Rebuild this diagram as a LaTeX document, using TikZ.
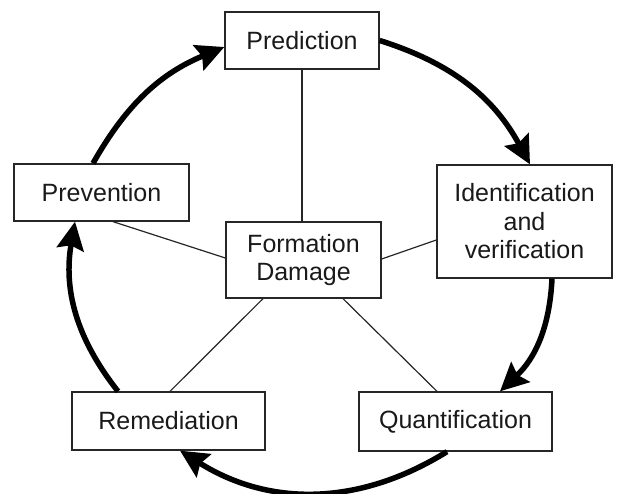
\documentclass[tikz,border=0pt]{standalone}
\usepackage{fontspec}
\setmainfont{Liberation Sans}
\usetikzlibrary{arrows.meta}
\begin{document}
\begin{tikzpicture}[x=1pt,y=1pt,
  box/.style={draw=black!85, line width=1.3pt, inner sep=0pt, align=center,
    text=black!90, font=\fontsize{25}{28.5}\selectfont},
  spoke/.style={draw=black!85, line width=1.2pt},
  cyc/.style={draw=black, line width=5.5pt,
    -{Stealth[length=28pt,width=27pt,inset=4pt]}}]
\useasboundingbox (0,0) rectangle (617,493);
\node[box, minimum width=154pt, minimum height=57pt] (pred) at (302,452.5) {Prediction};
\node[box, minimum width=175pt, minimum height=113pt] (ident) at (524.5,271.5) {Identification\\and\\verification};
\node[box, minimum width=175pt, minimum height=57pt] (prev) at (101.5,300.5) {Prevention};
\node[box, minimum width=155pt, minimum height=76pt] (form) at (303.5,233) {Formation\\Damage};
\node[box, minimum width=193pt, minimum height=58pt] (rem) at (168.5,72) {Remediation};
\node[box, minimum width=193pt, minimum height=59pt] (quant) at (455.5,71.5) {Quantification};
% spokes
\draw[spoke] (pred.south) -- (pred.south |- form.north);
\draw[spoke] ([xshift=11.5pt]prev.south) -- ([yshift=2pt]form.west);
\draw[spoke] ([yshift=-18.5pt]ident.west) -- ([yshift=1pt]form.east);
\draw[spoke] ([xshift=1.5pt]rem.north) -- ([xshift=-40.5pt]form.south);
\draw[spoke] ([xshift=-18.5pt]quant.north) -- ([xshift=39.5pt]form.south);
% cycle arrows
\draw[cyc] (pred.east) to[bend left=22] ([xshift=5.5pt]ident.north);
\draw[cyc] ([xshift=27.5pt]ident.south) to[bend left=22] ([xshift=44.5pt]quant.north);
\draw[cyc] ([xshift=-8.5pt]quant.south) to[bend left=32] ([xshift=11.5pt]rem.south);
\draw[cyc] ([xshift=-50.5pt]rem.north) to[bend left=24] ([xshift=-26.5pt]prev.south);
\draw[cyc] ([xshift=-8.5pt]prev.north) to[bend left=19] ([yshift=-6.5pt]pred.west);
\end{tikzpicture}
\end{document}
